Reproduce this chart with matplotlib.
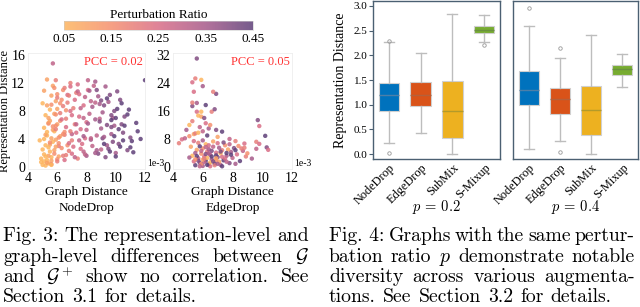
import numpy as np
import matplotlib
matplotlib.use('Agg')
import matplotlib.pyplot as plt
from matplotlib.colors import LinearSegmentedColormap, Normalize

plt.rcParams['font.family'] = ['Liberation Serif', 'DejaVu Serif']
plt.rcParams['mathtext.fontset'] = 'cm'

# ---- Fig. 3 data (graph distance in 1e-3, representation distance, perturbation ratio)
nd_x = [5.0, 5.1, 5.2, 4.9, 5.3, 5.1, 5.4, 5.0, 5.2, 5.5, 4.8, 5.3, 5.6, 5.1, 5.4, 5.7, 5.2, 5.5, 5.0, 5.8,
        5.3, 5.6, 5.4, 5.8, 5.5, 5.9, 5.2, 5.7, 6.0, 5.4, 5.8, 5.3, 5.9, 5.6, 5.1, 6.1, 5.7, 6.2, 5.3,
        5.6, 6.0, 5.8, 6.3, 5.5, 6.1, 6.5, 5.7, 6.2, 5.9, 6.6, 5.6, 6.3, 6.0, 5.8, 6.7, 5.4, 6.4,
        6.0, 6.4, 6.8, 6.1, 7.0, 6.5, 5.9, 7.2, 6.6, 6.2, 7.1, 6.7, 6.0, 7.3, 6.5, 6.9, 5.9, 7.4,
        6.5, 7.0, 7.6, 6.8, 7.9, 7.3, 6.6, 8.0, 7.5, 6.9, 7.8, 7.2, 6.7, 8.1, 7.4, 6.9, 7.7, 6.3,
        7.2, 7.8, 8.4, 7.5, 8.7, 8.0, 7.3, 8.9, 8.2, 7.6, 8.6, 7.9, 7.4, 8.5, 5.7, 8.1, 9.0, 7.0,
        8.0, 8.7, 9.4, 8.3, 9.7, 9.0, 8.1, 9.8, 9.1, 8.4, 9.5, 8.8, 8.2, 9.3, 10.0, 7.8, 9.9, 8.6,
        8.8, 9.5, 10.2, 9.1, 10.5, 9.7, 8.9, 10.6, 9.9, 9.2, 10.3, 9.6, 8.7, 10.1, 11.0, 10.8, 9.0, 10.4,
        9.6, 10.3, 11.1, 9.9, 11.5, 10.6, 9.7, 11.2, 10.8, 10.1, 11.7, 10.4, 9.4, 12.0, 10.9, 11.4,
        5.2, 5.4, 5.1, 5.6, 4.9, 5.3, 5.6, 5.9, 5.5, 6.0, 6.1, 6.4, 5.9, 6.2, 6.6, 6.9, 6.4, 6.8, 7.1, 7.6,
        7.0, 7.5, 7.9, 8.3, 7.8, 8.3, 8.6, 9.2, 8.6, 8.9, 9.3, 9.8, 9.4, 9.7, 10.0, 10.5, 10.2, 10.0, 11.0, 9.2]
nd_y = [0.3, 0.8, 0.2, 1.2, 1.0, 1.8, 0.5, 2.5, 3.1, 2.2, 3.8, 4.5, 1.4, 5.6, 6.3, 3.6, 7.4, 8.2, 9.1, 5.1,
        0.6, 0.9, 1.6, 2.4, 3.2, 3.9, 4.6, 5.3, 6.1, 7.0, 7.6, 8.8, 9.4, 10.2, 10.9, 1.5, 11.6, 4.4, 12.5,
        0.4, 1.1, 1.9, 2.7, 3.5, 4.2, 5.0, 5.8, 6.6, 7.5, 8.1, 8.9, 9.6, 10.4, 11.3, 3.1, 6.2, 11.0,
        0.8, 1.6, 2.3, 3.0, 3.8, 4.6, 5.4, 6.1, 6.9, 7.7, 8.4, 9.2, 9.9, 10.6, 11.3, 12.0, 12.4, 1.2,
        1.0, 1.9, 2.6, 3.4, 4.1, 4.9, 5.7, 6.4, 7.2, 8.0, 8.8, 9.6, 10.3, 11.0, 11.8, 11.5, 3.3, 6.8,
        1.4, 2.2, 3.0, 3.8, 4.5, 5.3, 6.1, 6.9, 7.6, 8.4, 9.2, 10.0, 10.8, 11.6, 14.8, 12.4, 2.5, 4.7,
        1.6, 2.4, 3.1, 3.9, 4.7, 5.5, 6.2, 7.0, 7.8, 8.6, 9.3, 10.1, 10.9, 11.5, 2.0, 4.4, 5.9, 12.2,
        1.9, 2.6, 3.3, 4.1, 4.9, 5.7, 6.5, 7.2, 8.0, 8.8, 9.6, 10.3, 11.0, 10.8, 4.2, 2.4, 9.5, 6.1,
        2.2, 2.9, 3.7, 4.4, 5.1, 5.9, 6.7, 2.1, 7.5, 8.3, 4.0, 9.1, 9.8, 12.4, 8.2, 6.3,
        1.5, 2.8, 4.0, 0.3, 0.7, 5.0, 4.1, 2.9, 6.6, 8.3, 3.4, 4.7, 5.9, 9.1, 1.7, 5.1, 8.7, 10.2, 2.9, 5.4,
        7.4, 10.4, 1.8, 4.1, 7.0, 9.4, 2.0, 4.3, 6.8, 9.0, 1.4, 3.6, 6.0, 7.4, 1.5, 3.8, 5.4, 7.0, 2.8, 3.3]
nd_p = [0.05] * 20 + [0.10] * 19 + [0.15] * 18 + [0.20] * 18 + [0.25] * 18 + \
       [0.30] * 18 + [0.35] * 18 + [0.40] * 18 + [0.45] * 16 + \
       [0.05] * 6 + [0.10] * 4 + [0.15] * 4 + [0.20] * 4 + [0.25] * 4 + \
       [0.30] * 4 + [0.35] * 4 + [0.40] * 4 + [0.45] * 6

ed_x = [5.5, 5.8, 6.0, 6.2, 5.7, 6.4, 6.6, 6.1, 5.9, 6.8, 7.0, 6.5, 7.2, 7.4, 6.3, 5.6, 6.9, 7.6, 7.8, 8.0,
        5.4, 5.3, 6.0, 6.7, 7.3, 7.9, 8.3, 8.5, 8.1, 7.5, 6.2, 5.7, 5.2, 6.5, 7.1, 6.3, 5.9, 6.9, 7.7, 8.7,
        8.9, 6.4, 7.0, 5.5, 6.6, 7.2, 6.1, 6.8, 7.5, 8.2, 5.8, 6.0, 7.8, 8.4, 6.7, 5.4, 5.1, 6.5, 7.3, 7.6,
        6.2, 6.9, 7.1, 5.6, 8.6, 6.4, 5.9, 7.4, 6.0, 8.8,
        5.8, 6.3, 6.7, 7.0, 6.1, 6.6, 7.3, 6.4, 5.7, 7.6, 7.9, 6.9, 6.2, 5.5, 8.2, 7.2,
        4.4, 4.6, 4.8, 5.1, 5.4, 5.5, 5.7, 6.0, 6.4, 6.9, 7.3, 5.1, 6.2, 6.5, 5.3, 5.9, 5.6, 6.1, 5.7, 6.6,
        6.8, 5.9, 5.3, 6.2, 5.6, 5.3, 6.9, 6.7, 5.4, 6.0, 5.3, 5.5, 5.9, 5.6, 7.8, 8.2, 7.0, 6.3, 5.8, 4.9,
        9.7, 9.8, 10.2, 9.6, 9.8, 10.3, 9.6, 9.0, 8.8, 10.4, 9.3]
ed_y = [0.5, 1.2, 0.3, 1.8, 2.5, 0.8, 2.2, 3.0, 3.8, 1.0, 2.8, 3.5, 0.6, 1.9, 4.4, 4.9, 4.1, 3.2, 1.1, 2.6,
        1.6, 3.2, 5.3, 5.8, 4.8, 4.3, 3.6, 1.7, 5.4, 6.2, 6.5, 6.9, 5.8, 0.2, 1.5, 2.6, 0.9, 3.3, 5.0, 4.6,
        3.0, 5.1, 6.8, 4.0, 4.6, 3.9, 1.4, 0.5, 2.4, 0.9, 5.9, 2.1, 6.5, 6.0, 7.3, 7.4, 2.7, 1.3, 0.2, 4.0,
        3.7, 2.0, 5.5, 3.1, 5.3, 6.2, 4.6, 7.0, 7.6, 6.7,
        0.2, 0.6, 1.6, 0.9, 2.4, 3.0, 2.9, 3.9, 1.8, 1.5, 3.5, 2.5, 5.7, 2.2, 4.8, 4.4,
        6.8, 7.9, 8.2, 8.8, 9.4, 9.6, 9.8, 10.2, 11.0, 10.6, 10.1, 12.0, 12.5, 12.0, 13.1, 14.4, 15.8, 14.0, 14.7, 15.8,
        16.5, 15.8, 17.4, 17.7, 18.3, 18.4, 20.9, 21.5, 21.5, 23.1, 24.2, 25.3, 24.9, 31.0, 8.0, 7.4, 8.6, 9.0, 11.4, 10.6,
        13.4, 11.7, 8.9, 7.2, 6.6, 5.6, 5.2, 3.9, 5.5, 4.9, 2.4]
ed_p = [0.45, 0.40, 0.35, 0.45, 0.30, 0.40, 0.35, 0.25, 0.15, 0.45, 0.40, 0.30, 0.35, 0.45, 0.20, 0.10, 0.25, 0.35, 0.40, 0.30,
        0.25, 0.05, 0.15, 0.30, 0.20, 0.35, 0.25, 0.45, 0.40, 0.15, 0.05, 0.20, 0.10, 0.25, 0.10, 0.05, 0.15, 0.45, 0.10, 0.30,
        0.20, 0.35, 0.25, 0.35, 0.40, 0.05, 0.30, 0.20, 0.25, 0.35, 0.45, 0.10, 0.30, 0.15, 0.10, 0.25, 0.35, 0.05, 0.45, 0.45,
        0.40, 0.15, 0.35, 0.45, 0.20, 0.25, 0.30, 0.40, 0.35, 0.25,
        0.30, 0.45, 0.40, 0.35, 0.20, 0.45, 0.25, 0.35, 0.40, 0.30, 0.45, 0.10, 0.30, 0.15, 0.45, 0.40,
        0.20, 0.25, 0.30, 0.15, 0.10, 0.20, 0.05, 0.30, 0.35, 0.40, 0.45, 0.05, 0.25, 0.15, 0.20, 0.10, 0.25, 0.40, 0.05, 0.20,
        0.40, 0.05, 0.40, 0.45, 0.35, 0.20, 0.40, 0.20, 0.25, 0.35, 0.25, 0.20, 0.05, 0.40, 0.30, 0.20, 0.10, 0.45, 0.30, 0.35,
        0.40, 0.25, 0.45, 0.20, 0.25, 0.40, 0.30, 0.15, 0.20, 0.25, 0.35]

pcc = {'NodeDrop': 0.02, 'EdgeDrop': 0.05}
ratio_ticks = [0.05, 0.15, 0.25, 0.35, 0.45]

# ---- Fig. 4 data (box statistics)
augs = ['NodeDrop', 'EdgeDrop', 'SubMix', 'S-Mixup']
box_colors = ['#0072bd', '#d95319', '#edb120', '#77ac30']
med_colors = ['#4d7fa8', '#b5603a', '#b39a2a', '#6a9140']
p_values = [0.2, 0.4]
whislo = {0.2: [0.23, 0.42, 0.01, 2.27], 0.4: [0.11, 0.27, 0.00, 1.36]}
q1 = {0.2: [0.88, 0.98, 0.32, 2.46], 0.4: [0.99, 0.81, 0.38, 1.61]}
med = {0.2: [1.20, 1.20, 0.88, 2.52], 0.4: [1.30, 1.12, 0.90, 1.72]}
q3 = {0.2: [1.44, 1.45, 1.48, 2.60], 0.4: [1.68, 1.33, 1.37, 1.81]}
whishi = {0.2: [2.26, 2.04, 2.84, 2.82], 0.4: [2.60, 1.95, 2.41, 2.02]}
fliers = {0.2: [[2.30, 0.02], [], [], [2.20]], 0.4: [[2.95], [2.14, 0.05], [], []]}

fig = plt.figure(figsize=(6.4, 3.07), dpi=100)
W, H = 640, 307


def px_axes(l, t, r, b):
    return fig.add_axes([l / W, 1 - b / H, (r - l) / W, (b - t) / H])


cmap = LinearSegmentedColormap.from_list(
    'pr', ['#fdb55e', '#f58f6e', '#d96d86', '#a65a8a', '#5e3f78'])
norm = Normalize(0.05, 0.45)

ax1 = px_axes(28, 53, 145, 169)
ax2 = px_axes(173, 53, 292, 169)
for ax, xs, ys, ps, name, ymax, yt in [
        (ax1, nd_x, nd_y, nd_p, 'NodeDrop', 16, [0, 4, 8, 12, 16]),
        (ax2, ed_x, ed_y, ed_p, 'EdgeDrop', 32, [0, 8, 16, 24, 32])]:
    sc = ax.scatter(xs, ys, c=ps, cmap=cmap, norm=norm, s=10, alpha=0.85,
                    linewidths=0)
    pad = ymax * 0.018
    ax.set_xlim(4, 12)
    ax.set_ylim(-pad, ymax + pad)
    ax.set_xticks([4, 6, 8, 10, 12])
    ax.set_yticks(yt)
    ax.tick_params(length=0, labelsize=10, pad=2)
    for s in ax.spines.values():
        s.set_color('#eeeeee')
        s.set_linewidth(0.6)
    ax.set_xlabel('Graph Distance\n' + name, fontsize=9.5, labelpad=1,
                  linespacing=1.45)
    ax.text(0.98, 0.97, 'PCC = %.2f' % pcc[name], transform=ax.transAxes,
            ha='right', va='top', color='#ff3333', fontsize=9)
    ax.text(1.015, 0.005, '1e-3', transform=ax.transAxes, ha='left',
            va='bottom', fontsize=7)
ax1.set_ylabel('Representation Distance', fontsize=9, labelpad=0.5)

cax = px_axes(64, 21, 253, 30)
cb = fig.colorbar(sc, cax=cax, orientation='horizontal', ticks=ratio_ticks)
cb.solids.set_alpha(0.85)
cb.outline.set_linewidth(0.4)
cb.outline.set_edgecolor('#cccccc')
cax.tick_params(length=0, labelsize=9.5, pad=2)
cax.set_title('Perturbation Ratio', fontsize=9.5, pad=2)

# ---- Fig. 4 boxes
bx1 = px_axes(373, 1, 500, 159)
bx2 = px_axes(513, 1, 638, 159)
for ax, p in zip([bx1, bx2], p_values):
    stats = [dict(whislo=whislo[p][i], q1=q1[p][i], med=med[p][i],
                  q3=q3[p][i], whishi=whishi[p][i], fliers=fliers[p][i])
             for i in range(len(augs))]
    bp = ax.bxp(stats, positions=range(4), widths=0.64, patch_artist=True,
                whiskerprops=dict(color='#bdbdbd', linewidth=1),
                capprops=dict(color='#bdbdbd', linewidth=1),
                flierprops=dict(marker='o', markersize=2.5,
                                markerfacecolor='none',
                                markeredgecolor='#999999',
                                markeredgewidth=0.6),
                medianprops=dict(linewidth=1))
    for i, b in enumerate(bp['boxes']):
        b.set_facecolor(box_colors[i])
        b.set_edgecolor('#d0d0d0')
        b.set_linewidth(0.8)
        bp['medians'][i].set_color(med_colors[i])
    ax.set_xlim(-0.5, 3.5)
    ax.set_ylim(-0.1, 3.1)
    ax.set_xticks(range(4))
    ax.set_xticklabels(augs, rotation=45, ha='right', rotation_mode='anchor',
                       fontsize=8.8)
    ax.tick_params(axis='x', length=0, pad=2)
    for s in ax.spines.values():
        s.set_color('#4b6072')
        s.set_linewidth(1.0)
    ax.set_yticks([0, 0.5, 1.0, 1.5, 2.0, 2.5, 3.0])
    xc = (ax.get_position().x0 + ax.get_position().x1) / 2
    fig.text(xc, 1 - 207 / H, '$p$ = %.1f' % p, ha='center', va='center',
             fontsize=10.5, family='cmr10')
bx1.tick_params(axis='y', length=3, width=0.8, color='#4b6072', labelsize=8,
                pad=1)
bx1.yaxis.set_major_formatter(plt.FuncFormatter(lambda v, _: '%.1f' % v))
bx2.tick_params(axis='y', left=False, labelleft=False)
bx1.set_ylabel('Representation Distance', fontsize=10, labelpad=5)

# ---- captions (justified lines)
cap3 = ['Fig.~3: The representation-level and',
        'graph-level differences between $\\mathcal{G}$',
        'and $\\mathcal{G}^+$ show no correlation. See',
        'Section 3.1 for details.']
cap4 = ['Fig.~4: Graphs with the same pertur-',
        'bation ratio $p$ demonstrate notable',
        'diversity across various augmenta-',
        'tions. See Section 3.2 for details.']
baselines = [241, 261.5, 282, 302.5]
cap_size = 14.2
renderer = fig.canvas.get_renderer()


def caption(lines, x0, x1):
    for k, (line, yb) in enumerate(zip(lines, baselines)):
        words = [w.replace('~', ' ') for w in line.split(' ')]
        ts = [fig.text(0, 1 - yb / H, w, fontsize=cap_size, family='cmr10',
                       va='baseline') for w in words]
        ws = [t.get_window_extent(renderer).width for t in ts]
        if k < len(lines) - 1:
            gap = (x1 - x0 - sum(ws)) / (len(ws) - 1)
        else:
            gap = 0.36 * cap_size * 100 / 72
        x = x0
        for t, w in zip(ts, ws):
            t.set_x(x / W)
            x += w + gap


caption(cap3, 3, 309)
caption(cap4, 329, 635)

fig.savefig('out.png', dpi=100)
